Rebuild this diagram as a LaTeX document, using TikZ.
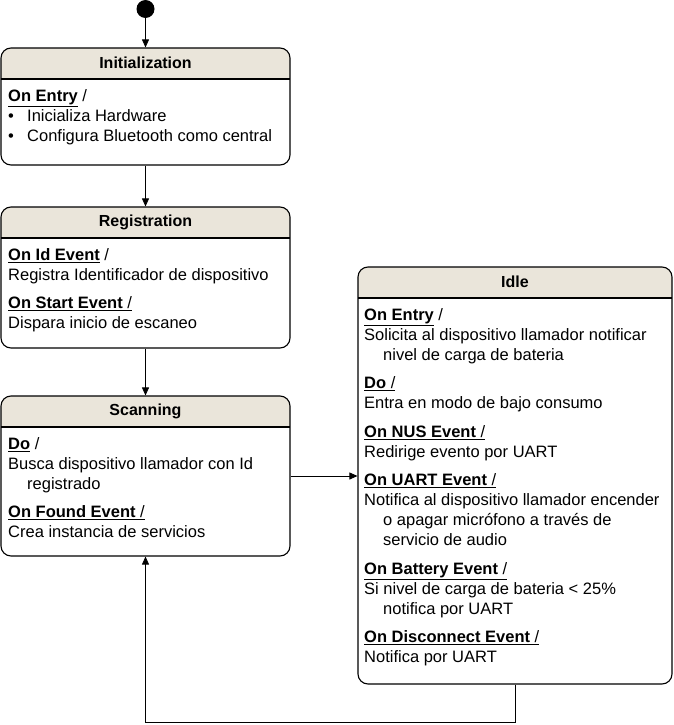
\documentclass[tikz,border=0pt]{standalone}
\usepackage{fontspec}
\setmainfont{Liberation Sans}
\usetikzlibrary{arrows.meta}
\definecolor{headbg}{RGB}{234,229,218}

\newcommand{\evt}[1]{\strut\underline{\textbf{#1}} /}
\newcommand{\evtu}[1]{\strut\underline{\textbf{#1} /}}
\newcommand{\ind}{\hspace*{19pt}}
\newcommand{\bul}{\makebox[19pt][l]{\textbullet}}

\begin{document}
\begin{tikzpicture}[x=1pt,y=-1pt,
    every node/.style={font=\fontsize{16.5}{20}\selectfont},
    statebox/.style={draw, line width=1.1pt, rounded corners=10pt, inner sep=0pt,
      path picture={
        \fill[headbg, sharp corners] (path picture bounding box.north west) rectangle ([yshift=-31pt]path picture bounding box.north east);
        \draw[line width=1.1pt, sharp corners] ([yshift=-31pt]path picture bounding box.north west) -- ([yshift=-31pt]path picture bounding box.north east);
      }},
    title/.style={font=\fontsize{16}{20}\selectfont\bfseries},
    body/.style={anchor=north west, align=left, inner sep=0pt},
    trans/.style={line width=0.8pt, -{Triangle[length=8pt,width=7pt]}}]
        \useasboundingbox (0,0) rectangle (673,725);

        \node[circle, fill=black, inner sep=0pt, minimum size=18pt] (start) at (145.5,9) {};

        \node[statebox, minimum width=289pt, minimum height=117pt] (init) at (145.5,106.5) {};
        \node[title] at ([yshift=-15.5pt]init.north) {Initialization};
        \node[body] (initdo) at (8,87) {\evt{On Entry}\\
            \bul Inicializa Hardware\\
            \bul Configura Bluetooth como central};

        \node[statebox, minimum width=289pt, minimum height=141pt] (reg) at (145.5,277.5) {};
        \node[title] at ([yshift=-15.5pt]reg.north) {Registration};
        \node[body] (regdo) at (8,246) {\evt{On Id Event}\\
            Registra Identificador de dispositivo\\[8.5pt]
            \evtu{On Start Event}\\
            Dispara inicio de escaneo};

        \node[statebox, minimum width=289pt, minimum height=160pt] (scan) at (145.5,476) {};
        \node[title] at ([yshift=-15.5pt]scan.north) {Scanning};
        \node[body] (scando) at (8,435) {\evt{Do}\\
            Busca dispositivo llamador con Id\\
            \ind registrado\\[8.5pt]
            \evtu{On Found Event}\\
            Crea instancia de servicios};

        \node[statebox, minimum width=314pt, minimum height=417pt] (idle) at (515,475.5) {};
        \node[title] at ([yshift=-15.5pt]idle.north) {Idle};
        \node[body] (idledo) at (364,306) {\evt{On Entry}\\
            Solicita al dispositivo llamador notificar\\
            \ind nivel de carga de bateria\\[8.5pt]
            \evtu{Do}\\
            Entra en modo de bajo consumo\\[8.5pt]
            \evtu{On NUS Event}\\
            Redirige evento por UART\\[8.5pt]
            \evtu{On UART Event}\\
            Notifica al dispositivo llamador encender\\
            \ind o apagar micrófono a través de\\
            \ind servicio de audio\\[8.5pt]
            \evtu{On Battery Event}\\
            Si nivel de carga de bateria \textless{} 25\%\\
            \ind notifica por UART\\[8.5pt]
            \evtu{On Disconnect Event}\\
            Notifica por UART};

        \draw[trans] (start) -- (init);
        \draw[trans] (init) -- (reg);
        \draw[trans] (reg) -- (scan);
        \draw[trans] (scan.east) -- (scan.east -| idle.west);
        \draw[trans] (idle.south) -- ++(0,38) -| (scan.south);
\end{tikzpicture}
\end{document}
